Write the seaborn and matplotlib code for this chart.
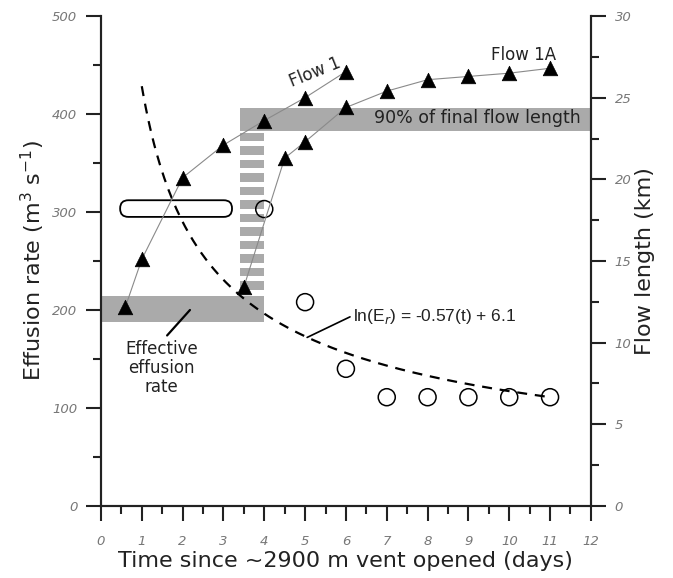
import numpy as np
import pandas as pd
import matplotlib
matplotlib.use("Agg")
import matplotlib.pyplot as plt
from matplotlib.patches import FancyBboxPatch, Rectangle
import seaborn as sns

# ---------------- data ----------------
flow1_days = [0.6, 1, 2, 3, 4, 5, 6]
flow1_km = [12.2, 15.1, 20.1, 22.1, 23.6, 25.0, 26.6]

flow1a_days = [3.5, 4.5, 5, 6, 7, 8, 9, 10, 11]
flow1a_km = [13.4, 21.3, 22.3, 24.4, 25.4, 26.1, 26.3, 26.5, 26.8]

effusion_days = [4, 5, 6, 7, 8, 9, 10, 11]
effusion_rate = [303, 208, 140, 111, 111, 111, 111, 111]

# fitted decay curve: E = exp(a) * t^-b
fit_a = 6.06
fit_b = 0.563
fit_t0, fit_t1 = 1.0, 11.0

effective_band = (188, 214)      # effusion-rate band, days 0-4
length90_band = (383, 406)       # 90% of final flow length band (left-axis units)

x_ticks = list(range(0, 13))
left_ticks = [0, 100, 200, 300, 400, 500]
right_ticks = [0, 5, 10, 15, 20, 25, 30]

# ---------------- figure ----------------
sns.set_theme(style="white")
plt.rcParams['font.family'] = ['DejaVu Sans']

fig = plt.figure(figsize=(6.73, 5.78), dpi=100)
ax = fig.add_axes([0.150, 0.1246, 0.728, 0.8477])
ax2 = ax.twinx()

ax.set_xlim(0, 12)
ax.set_ylim(0, 500)
ax2.set_ylim(0, 30)

# bands
ax.add_patch(Rectangle((0, effective_band[0]), 4, effective_band[1] - effective_band[0],
                       facecolor='#aaaaaa', edgecolor='none', zorder=0))
ax.add_patch(Rectangle((3.4, length90_band[0]), 12 - 3.4, length90_band[1] - length90_band[0],
                       facecolor='#aaaaaa', edgecolor='none', zorder=0))
# striped vertical connector
y = 381.0
for i in range(12):
    ax.add_patch(Rectangle((3.4, y - 8.7), 0.6, 8.7, facecolor='#aaaaaa',
                           edgecolor='none', zorder=0))
    y -= 13.8

# rounded empty box
ax.add_patch(FancyBboxPatch((0.47, 295), 3.21 - 0.47, 17,
                            boxstyle="round,pad=0,rounding_size=0.2",
                            mutation_aspect=41.0, facecolor='none',
                            edgecolor='black', lw=1.3, zorder=3))

# dashed fit curve
t = np.linspace(fit_t0, fit_t1, 200)
curve = pd.DataFrame({"t": t, "E": np.exp(fit_a) * t ** (-fit_b)})
sns.lineplot(data=curve, x="t", y="E", ax=ax, color='black', lw=1.6,
             linestyle=(0, (4.5, 3.5)), zorder=2)

# effusion rate circles
eff = pd.DataFrame({"t": effusion_days, "E": effusion_rate})
sns.scatterplot(data=eff, x="t", y="E", ax=ax, marker='o', s=150,
                facecolor='none', edgecolor='black', linewidth=1.1, zorder=4)

# flow length triangles
f1 = pd.DataFrame({"t": flow1_days, "L": flow1_km})
f1a = pd.DataFrame({"t": flow1a_days, "L": flow1a_km})
for d in (f1, f1a):
    sns.lineplot(data=d, x="t", y="L", ax=ax2, color='#8a8a8a', lw=0.8, zorder=2)
    sns.scatterplot(data=d, x="t", y="L", ax=ax2, marker='^', s=110,
                    color='black', edgecolor='black', linewidth=0.5, zorder=3)

# annotations
ax.plot([2.18, 1.62], [200, 174], color='black', lw=1.6, zorder=3)
ax.text(1.49, 141, "Effective\neffusion\nrate", ha='center', va='center',
        fontsize=12, linespacing=1.05, color='#222222')
ax.plot([5.05, 6.1], [172, 193], color='black', lw=1.2, zorder=3)
ax.text(6.17, 193, r"ln(E$_r$) = -0.57(t) + 6.1", ha='left', va='center',
        fontsize=12.5, family='Liberation Sans', color='#222222')
ax.text(5.24, 443, "Flow 1", ha='center', va='center', rotation=22,
        fontsize=12, color='#222222')
ax.text(10.34, 460, "Flow 1A", ha='center', va='center',
        fontsize=12, color='#222222')
ax.text(9.21, 396, "90% of final flow length", ha='center', va='center',
        fontsize=12.5, color='#222222')

# axes styling
for a in (ax, ax2):
    a.grid(False)
    a.spines['top'].set_visible(False)
    for s in ('left', 'right', 'bottom'):
        a.spines[s].set_linewidth(1.5)
        a.spines[s].set_color('#222222')

ax.set_xticks(x_ticks)
ax.set_xticks(np.arange(0.5, 12, 1), minor=True)
ax.set_yticks(left_ticks)
ax.set_yticks(np.arange(50, 500, 100), minor=True)
ax2.set_yticks(right_ticks)
ax2.set_yticks(np.arange(2.5, 30, 5), minor=True)

tick_font = dict(fontsize=9.5, color='#777777', fontstyle='italic')
ax.set_xticklabels([str(v) for v in x_ticks], **tick_font)
ax.set_yticklabels([str(v) for v in left_ticks], **tick_font)
ax2.set_yticklabels([str(v) for v in right_ticks], **tick_font)

ax.tick_params(axis='both', which='major', direction='out', length=11, width=1.5,
               color='#222222', pad=6)
ax.tick_params(axis='both', which='minor', direction='out', length=5.5, width=1.5,
               color='#222222')
ax.tick_params(axis='x', which='major', pad=10)
ax2.tick_params(axis='y', which='major', direction='out', length=11, width=1.5,
                color='#222222', pad=6)
ax2.tick_params(axis='y', which='minor', direction='out', length=5.5, width=1.5,
                color='#222222')
ax.tick_params(left=True, bottom=True, which='both')
ax2.tick_params(right=True, which='both')

ax.set_xlabel("Time since ~2900 m vent opened (days)", fontsize=16, color='#222222',
              labelpad=2)
ax.set_ylabel(r"Effusion rate (m$^3$ s$^{-1}$)", fontsize=16, color='#222222',
              labelpad=4)
ax2.set_ylabel("Flow length (km)", fontsize=16, color='#222222', labelpad=3)

fig.savefig("out.png", dpi=100)
